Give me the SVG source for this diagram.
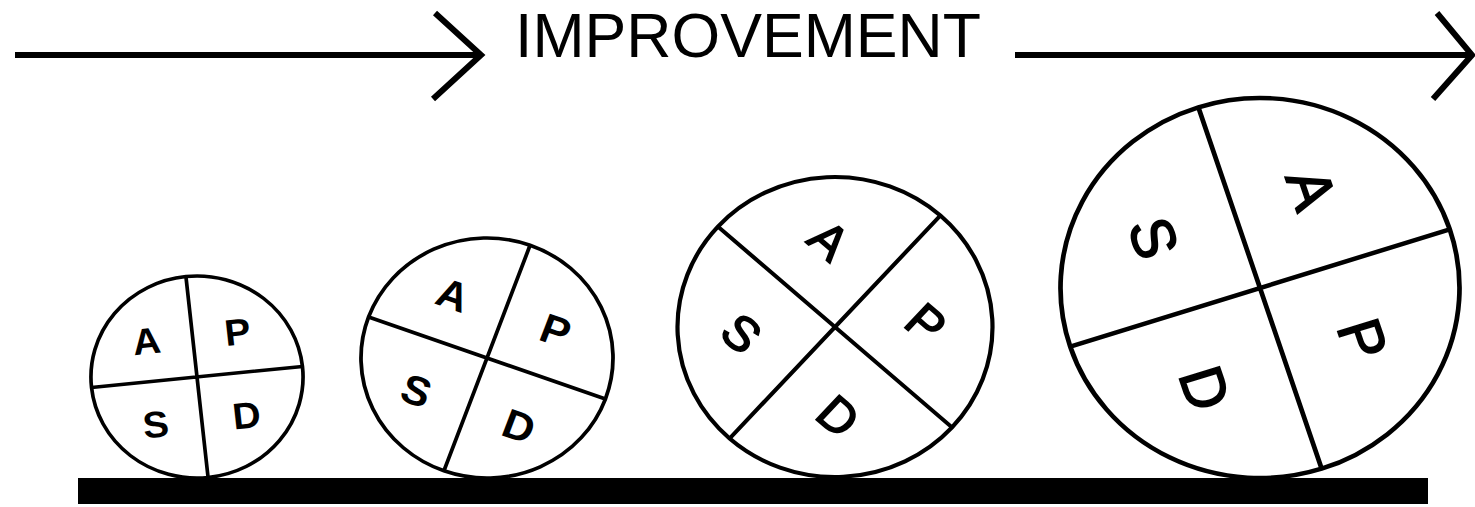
<svg xmlns="http://www.w3.org/2000/svg" width="1475" height="507" viewBox="0 0 1475 507">
<style>
.bg{fill:#ffffff}
.arr{fill:none;stroke:#000;stroke-width:6;stroke-linecap:butt;stroke-linejoin:miter}
.ring{fill:#ffffff;stroke:#000}
.cross{stroke:#000;fill:none}
.lb{font-family:"Liberation Sans",Arial,sans-serif;fill:#000;text-anchor:middle}
.b{font-weight:bold}
.r{font-weight:normal;stroke:#000;stroke-width:1.6}
.title{font-family:"Liberation Sans",Arial,sans-serif;font-size:63px;fill:#000}
</style>
<rect class="bg" x="0" y="0" width="1475" height="507"/>
<g id="connectors">
  <path class="arr" d="M15 55 H481"/>
  <polyline class="arr" points="435,13 481,55 433,99"/>
  <path class="arr" d="M1015 55 H1470"/>
  <polyline class="arr" points="1437,13 1472,55 1433,99"/>
</g>
<text id="label-improvement" class="title" x="515" y="57" textLength="466" lengthAdjust="spacingAndGlyphs">IMPROVEMENT</text>
<rect id="ground" x="78" y="478" width="1350" height="26" fill="#000"/>
<g id="pdsa-1" transform="translate(197,377) scale(1.05,1) rotate(-6)">
  <circle class="ring" r="101" stroke-width="3.5"/>
  <path class="cross" stroke-width="3.5" d="M-101 0 H101 M0 -101 V101"/>
  <g class="lb b" font-size="37">
    <text x="-44" y="-28">A</text>
    <text x="43" y="-28">P</text>
    <text x="-44" y="56">S</text>
    <text x="43" y="56">D</text>
  </g>
</g>
<g id="pdsa-2" transform="translate(487,358) scale(1.05,1) rotate(20)">
  <circle class="ring" r="120" stroke-width="3.6"/>
  <path class="cross" stroke-width="3.6" d="M-120 0 H120 M0 -120 V120"/>
  <g class="lb b" font-size="41">
    <text x="-52" y="-34">A</text>
    <text x="52" y="-34">P</text>
    <text x="-52" y="68">S</text>
    <text x="52" y="68">D</text>
  </g>
</g>
<g id="pdsa-3" transform="translate(835,327) scale(1.05,1) rotate(42)">
  <circle class="ring" r="150" stroke-width="4"/>
  <path class="cross" stroke-width="4" d="M-150 0 H150 M0 -150 V150"/>
  <g class="lb r" font-size="48">
    <text x="-62" y="-44">A</text>
    <text x="62" y="-44">P</text>
    <text x="-62" y="81">S</text>
    <text x="62" y="81">D</text>
  </g>
</g>
<g id="pdsa-4" transform="translate(1260,288) scale(1.05,1) rotate(72)">
  <circle class="ring" r="190" stroke-width="4.5"/>
  <path class="cross" stroke-width="4.5" d="M-190 0 H190 M0 -190 V190"/>
  <g class="lb r" font-size="58">
    <text x="-79" y="-57">A</text>
    <text x="79" y="-57">P</text>
    <text x="-79" y="101">S</text>
    <text x="79" y="101">D</text>
  </g>
</g>
</svg>
